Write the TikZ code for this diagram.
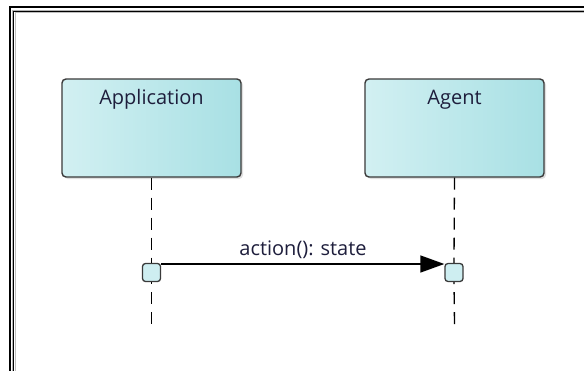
\documentclass[tikz,border=0pt]{standalone}
\usepackage{fontspec}
\setmainfont{Open Sans}
\usetikzlibrary{arrows.meta,shadows}
\definecolor{boxL}{HTML}{D2F0F2}
\definecolor{boxR}{HTML}{A8E0E4}
\definecolor{boxE}{HTML}{3A3A3A}
\definecolor{txt}{HTML}{1E1E3C}
\tikzset{
  lifebox/.style={draw=boxE, line width=1.4pt, rounded corners=4pt, left color=boxL, right color=boxR,
    minimum width=179pt, minimum height=98pt, inner sep=0pt,
    drop shadow={shadow xshift=2pt, shadow yshift=-2pt, opacity=0.25, fill=gray}},
  actbox/.style={draw=boxE, line width=1.3pt, rounded corners=3pt, fill=boxL!90!boxR,
    minimum width=18pt, minimum height=18pt, inner sep=0pt},
  lifeline/.style={line width=1.3pt, dash pattern=on 12pt off 8pt},
  lbl/.style={font=\fontsize{20pt}{24pt}\selectfont, text=txt, inner sep=0pt},
  msg/.style={line width=1.4pt, -{Triangle[length=24pt,width=17pt]}}
}
\begin{document}
\begin{tikzpicture}[x=1pt,y=-1pt]
\useasboundingbox (0,0) rectangle (584,370);
\fill[white] (0,0) rectangle (584,370);
% frame
\draw[line width=2.6pt] (9.8,372) -- (9.8,7) -- (586,7);
\draw[gray!60, line width=1pt] (12.5,372) -- (12.5,10) -- (586,10);
\draw[line width=1.3pt] (13.8,372) -- (13.8,11.2) -- (586,11.2);
\draw[gray!50, line width=1pt] (15.2,372) -- (15.2,12.6) -- (586,12.6);
% lifeline heads
\node[lifebox] (app) at (151.5,128) {};
\node[lifebox] (agt) at (454.5,128) {};
\node[lbl, anchor=base] (appT) at (151.5,104) {Application};
\node[lbl, anchor=base] (agtT) at (454.5,104) {Agent};
% activations
\node[actbox] (a1) at (151.5,272.5) {};
\node[actbox] (a2) at (454,272.5) {};
\coordinate (e1) at (151.5,325);
\coordinate (e2) at (454.5,325);
% lifelines
\draw[lifeline] (app.south) -- (a1.north);
\draw[lifeline] (agt.south) -- (a2.north);
\draw[lifeline, dash phase=10pt] (a1.south) -- (e1);
\draw[lifeline, dash phase=10pt] (a2.south) -- (e2);
% message
\draw[msg] (a1.east |- 0,264) -- (a2.west |- 0,264);
\node[lbl, anchor=base] (m) at (303,255) {action(): state};
\end{tikzpicture}
\end{document}
